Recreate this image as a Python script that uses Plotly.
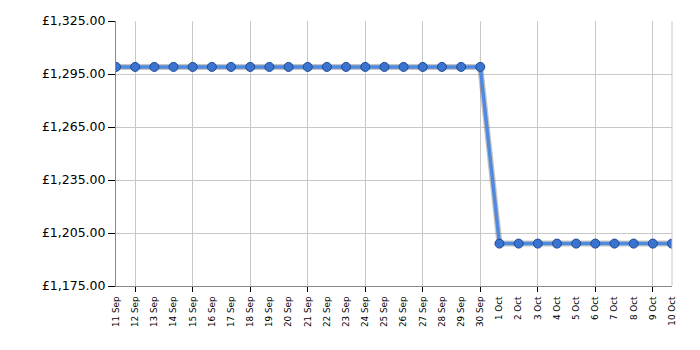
import plotly.graph_objects as go

dates = ["11 Sep", "12 Sep", "13 Sep", "14 Sep", "15 Sep", "16 Sep", "17 Sep", "18 Sep",
         "19 Sep", "20 Sep", "21 Sep", "22 Sep", "23 Sep", "24 Sep", "25 Sep", "26 Sep",
         "27 Sep", "28 Sep", "29 Sep", "30 Sep", "1 Oct", "2 Oct", "3 Oct", "4 Oct",
         "5 Oct", "6 Oct", "7 Oct", "8 Oct", "9 Oct", "10 Oct"]
prices = [1299] * 20 + [1199] * 10
y_ticks = [1175, 1205, 1235, 1265, 1295, 1325]
y_labels = ["\u00a31,175.00", "\u00a31,205.00", "\u00a31,235.00",
            "\u00a31,265.00", "\u00a31,295.00", "\u00a31,325.00"]

idx = list(range(len(dates)))

fig = go.Figure()
# soft shadow under the line
fig.add_trace(go.Scatter(
    x=idx, y=prices, mode="lines",
    line=dict(color="rgba(60,60,60,0.3)", width=6),
    hoverinfo="skip", showlegend=False,
))
fig.add_trace(go.Scatter(
    x=idx, y=prices, mode="lines+markers",
    line=dict(color="#4f8ade", width=3.5),
    marker=dict(size=9, color="#3a74cf", line=dict(color="#1d4a94", width=1)),
    showlegend=False,
))

fig.update_layout(
    width=700, height=350,
    margin=dict(l=116, r=28, t=21, b=64),
    plot_bgcolor="white", paper_bgcolor="white",
    font=dict(family="DejaVu Sans", color="#000"),
    shapes=[dict(type="line", xref="paper", yref="paper", x0=1, x1=1, y0=0, y1=1,
                 line=dict(color="#c8c8c8", width=1))],
)
fig.update_xaxes(
    range=[0, len(dates) - 1],
    tickmode="array", tickvals=idx, ticktext=dates,
    tickangle=-90, tickfont=dict(size=8.8, family="DejaVu Sans"),
    ticks="outside", ticklen=6, tickcolor="rgba(0,0,0,0)",
    showgrid=False, zeroline=False,
    showline=True, linecolor="#888888", linewidth=1,
    minor=dict(tick0=1, dtick=3, showgrid=True, gridcolor="#c8c8c8", gridwidth=1,
               ticks="outside", ticklen=5, tickcolor="#000"),
)
fig.update_yaxes(
    range=[1175, 1325],
    tickmode="array", tickvals=y_ticks, ticktext=y_labels,
    tickfont=dict(size=12.5, family="DejaVu Sans"),
    ticks="outside", ticklen=7, tickcolor="#000",
    showgrid=True, gridcolor="#c8c8c8", gridwidth=1, zeroline=False,
    showline=True, linecolor="#888888", linewidth=1,
)

fig.write_html("out.html")
